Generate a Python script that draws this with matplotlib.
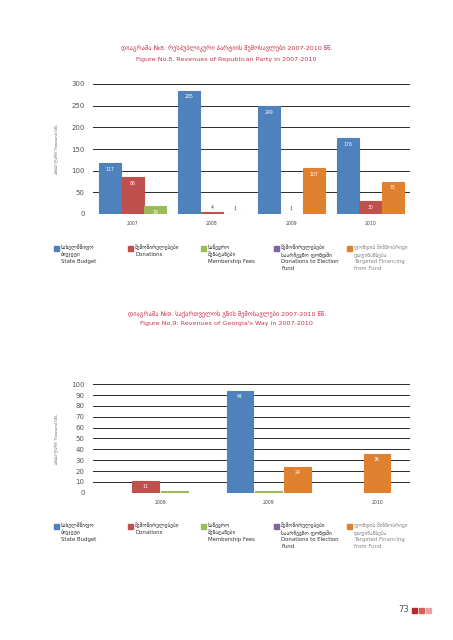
import numpy as np
import matplotlib
matplotlib.use("Agg")
import matplotlib.pyplot as plt
from matplotlib.patches import Rectangle

plt.rcParams['font.family'] = ['DejaVu Sans']

# Diagram 8 - Republican Party
years1 = ['2007', '2008', '2009', '2010']
state_budget1 = [117, 285, 249, 176]
donations1 = [86, 4, 1, 30]
membership1 = [19, None, None, None]
election_fund1 = [None, None, None, None]
targeted1 = [None, 1, 107, 75]

# Diagram 9 - Georgia's Way
years2 = ['2008', '2009', '2010']
state_budget2 = [None, 94, None]
donations2 = [11, None, None]
membership2 = [2, 2, None]
election_fund2 = [None, None, None]
targeted2 = [None, 24, 36]

colors = ['#4f81bd', '#c0504d', '#9bbb59', '#8064a2', '#e0812f']
legend_texts = [
    "სახელმწიფო\nბიუჯეტი\nState Budget",
    "შემოწირულებები\nDonations",
    "საწევრო\nშენატანები\nMembership Fees",
    "შემოწირულებები\nსაარჩევნო ფონდში\nDonations to Election\nFund",
    "ფონდის მიზნობრივი\nდაფინანსება\nTargeted Financing\nfrom Fund",
]
title_color = '#c8334f'
W, H = 453, 640

fig = plt.figure(figsize=(W / 100, H / 100), dpi=100)


def fx(px):
    return px / W


def fy(py):
    return 1 - py / H


def bar_chart(top, bottom, years, series, ymax, ystep, bw, step, xlim, small, labeled_min):
    ax = fig.add_axes([fx(93), fy(bottom), fx(410 - 93), fy(top) - fy(bottom)])
    for i in range(len(years)):
        vals = [(k, s[i]) for k, s in enumerate(series) if s[i] is not None]
        n = len(vals)
        for j, (k, v) in enumerate(vals):
            x = i + (j - (n - 1) / 2) * step
            # thin edge in the same colour keeps tiny bars visible
            ax.bar(x, v, width=bw, color=colors[k], edgecolor=colors[k],
                   linewidth=0.8, zorder=3)
            if v < labeled_min:
                continue
            if v < small:
                ax.text(x, v + ymax * 0.02, str(v), ha='center', va='bottom',
                        fontsize=3.3, color='#444444', zorder=4)
            else:
                ax.text(x, v - ymax * 0.03, str(v), ha='center', va='top',
                        fontsize=3.3, color='white', zorder=4)
    ax.set_xlim(*xlim)
    ax.set_ylim(0, ymax)
    ax.set_yticks(np.arange(0, ymax + 1, ystep))
    for t in ax.get_yticks():
        ax.axhline(t, color='#2b2b2b', lw=0.7, zorder=2)
    ax.set_xticks(range(len(years)))
    ax.set_xticklabels(years, fontsize=3.3, color='#444444')
    ax.tick_params(axis='x', length=0, pad=5)
    ax.tick_params(axis='y', length=0, pad=6, labelsize=5, labelcolor='#555555')
    for s in ax.spines.values():
        s.set_visible(False)
    mid = (top + bottom) / 2
    fig.text(fx(57), fy(mid), "ათასი ლარი/ Thousand GEL", rotation=90,
             ha='center', va='center', fontsize=2.6, color='#666666')
    return ax


def legend(ytop):
    xs = [54, 128, 201, 274, 347]
    for k, x in enumerate(xs):
        fig.patches.append(Rectangle((fx(x), fy(ytop + 5)), fx(5), fy(ytop) - fy(ytop + 5),
                                     transform=fig.transFigure, color=colors[k], figure=fig))
        fig.text(fx(x + 7), fy(ytop - 1.5), legend_texts[k], ha='left', va='top',
                 fontsize=3.9, linespacing=1.35,
                 color='#888888' if k == 4 else '#333333')


# Chart 1
fig.text(0.5, fy(48), "დიაგრამა №8. რესპუბლიკური პარტიის შემოსავლები 2007-2010 წწ.",
         ha='center', va='center', fontsize=4.6, color=title_color)
fig.text(0.5, fy(59), "Figure No.8. Revenues of Republican Party in 2007-2010",
         ha='center', va='center', fontsize=4.6, color=title_color)
bar_chart(84, 214, years1, [state_budget1, donations1, membership1, election_fund1, targeted1],
          300, 50, 0.278, 0.285, (-0.5, 3.5), 15, 0)
legend(246)

# Chart 2
fig.text(0.5, fy(314), "დიაგრამა №9. საქართველოს გზის შემოსავლები 2007-2010 წწ.",
         ha='center', va='center', fontsize=4.6, color=title_color)
fig.text(0.5, fy(324), "Figure No.9: Revenues of Georgia's Way in 2007-2010",
         ha='center', va='center', fontsize=4.6, color=title_color)
bar_chart(384.3, 492.7, years2, [state_budget2, donations2, membership2, election_fund2, targeted2],
          100, 10, 0.24, 0.267, (-0.6175, 2.304), 0, 5)
legend(524)

# page number
fig.text(fx(409), fy(610), "73", ha='right', va='center', fontsize=6, color='#555555')
for x, c in zip([412, 419, 426], ['#b8282e', '#d0605a', '#eaa0a0']):
    fig.patches.append(Rectangle((fx(x), fy(612.7)), fx(5), fy(607.7) - fy(612.7),
                                 transform=fig.transFigure, color=c, figure=fig))

fig.savefig('out.png', dpi=100, facecolor='white')
